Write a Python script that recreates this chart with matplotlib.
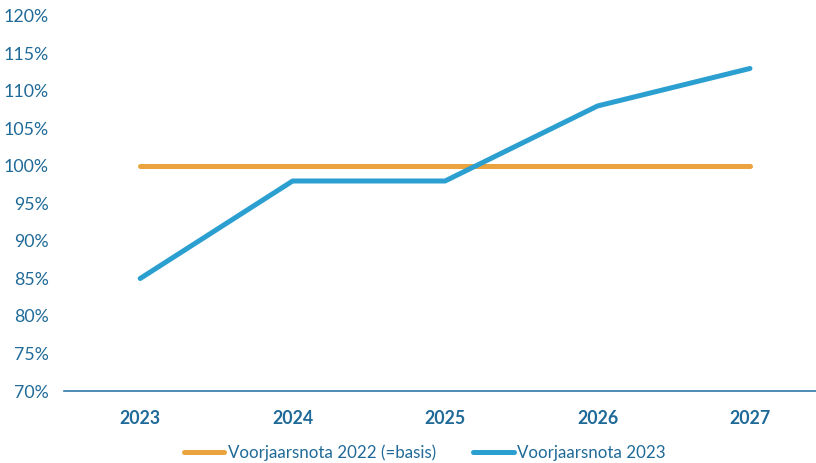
import matplotlib
matplotlib.use('Agg')
import matplotlib.pyplot as plt
from matplotlib.ticker import FuncFormatter

years = ['2023', '2024', '2025', '2026', '2027']
basis2022 = [100, 100, 100, 100, 100]
nota2023 = [85, 98, 98, 108, 113]
yticks = list(range(70, 121, 5))

textColor = '#1F6A98'
plt.rcParams['font.family'] = ['Lato', 'DejaVu Sans']

fig = plt.figure(figsize=(8.16, 4.63), dpi=100)
ax = fig.add_axes([0.0784, 0.1555, 0.921, 0.81])
xs = range(len(years))
ax.plot(xs, basis2022, color='#EAA33F', linewidth=3.6, solid_capstyle='round', label='Voorjaarsnota 2022 (=basis)')
ax.plot(xs, nota2023, color='#2A9FD0', linewidth=3.6, solid_capstyle='round', label='Voorjaarsnota 2023')
ax.set_ylim(70, 120)
ax.set_xlim(-0.5, 4.43)
ax.set_yticks(yticks)
ax.yaxis.set_major_formatter(FuncFormatter(lambda v, p: '%d%%' % v))
ax.set_xticks(list(xs))
ax.set_xticklabels(years, fontweight='bold')
for s in ['top', 'right', 'left']:
    ax.spines[s].set_visible(False)
ax.spines['bottom'].set_color('#2E78A8')
ax.spines['bottom'].set_linewidth(1.2)
ax.tick_params(axis='both', length=0, labelsize=12.8, labelcolor=textColor)
ax.tick_params(axis='y', pad=11)
ax.tick_params(axis='x', pad=14)
leg = ax.legend(loc='lower center', bbox_to_anchor=(0.48, -0.205), ncol=2, frameon=False,
                fontsize=12.2, handlelength=2.4, handletextpad=0.2, columnspacing=2.2,
                bbox_transform=ax.transAxes, borderaxespad=0)
for t in leg.get_texts():
    t.set_color(textColor)
fig.savefig('out.png', dpi=100)
